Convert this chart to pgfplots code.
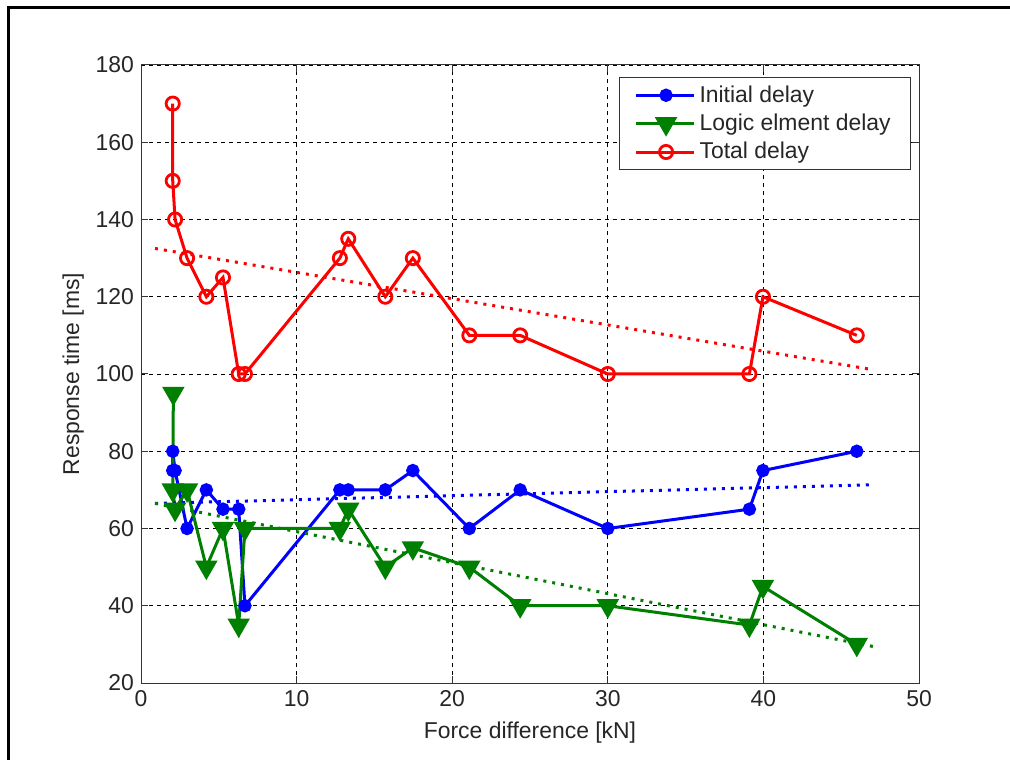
\documentclass[border=0pt]{standalone}
\usepackage{pgfplots}
\pgfplotsset{compat=1.18}
\usepackage{pgfplotstable}
\usepackage{fontspec}
\setmainfont{Liberation Sans}
\definecolor{mblue}{RGB}{0,0,255}
\definecolor{mgreen}{RGB}{0,128,0}
\definecolor{mred}{RGB}{255,0,0}
\pgfplotstableread{
x y
2.04 75
2.04 80
2.19 75
2.96 60
4.20 70
5.27 65
6.28 65
6.68 40
12.78 70
13.32 70
15.70 70
17.47 75
21.10 60
24.37 70
30.00 60
39.10 65
39.97 75
46.00 80
}\initial
\pgfplotstableread{
x y
2.08 95
2.04 70
2.19 65
2.96 70
4.20 50
5.27 60
6.28 35
6.68 60
12.78 60
13.32 65
15.70 50
17.47 55
21.10 50
24.37 40
30.00 40
39.10 35
39.97 45
46.00 30
}\logic
\pgfplotstableread{
x y
2.04 170
2.04 150
2.19 140
2.96 130
4.20 120
5.27 125
6.28 100
6.68 100
12.78 130
13.32 135
15.70 120
17.47 130
21.10 110
24.37 110
30.00 100
39.10 100
39.97 120
46.00 110
}\total
\begin{document}
\begin{tikzpicture}
\useasboundingbox (0,0) rectangle (505bp,380bp);
\fill[white] (0,0) rectangle (505bp,380bp);
\draw[line width=1.5bp] (4bp,0) -- (4bp,376bp) -- (505bp,376bp);
\begin{axis}[
  at={(70.5bp,38.5bp)}, anchor=south west,
  width=389bp, height=309bp, scale only axis,
  xmin=0, xmax=50, ymin=20, ymax=180,
  xtick={0,10,...,50}, ytick={20,40,...,180},
  grid=major,
  major grid style={black, dash pattern=on 2bp off 2bp, line width=0.4bp},
  tick align=inside, tick pos=both, major tick length=3.5bp,
  tick style={black!80, line width=0.5bp},
  axis line style={black!80, line width=0.5bp},
  /pgf/number format/assume math mode=true,
  tick label style={font=\fontsize{11.5}{13.5}\selectfont, text=black!85},
  label style={font=\fontsize{11.5}{13.5}\selectfont, text=black!85},
  xlabel={Force difference [kN]},
  ylabel={Response time [ms]},
  xlabel style={at={(axis description cs:0.5,-0.081)}, anchor=center},
  ylabel style={at={(axis description cs:-0.087,0.5)}, anchor=center},
  legend style={at={(axis description cs:1,1)}, anchor=north east,
    xshift=-4.2bp, yshift=-6.2bp, draw=black!80, line width=0.5bp,
    font=\fontsize{11.5}{13.5}\selectfont, text=black!85,
    row sep=0.4bp, inner xsep=7.75bp, inner ysep=1.8bp},
  legend cell align=left,
  legend image code/.code={%
    \path (-4.5bp,0) -- (24.5bp,0);
    \draw[mark repeat=2,mark phase=2,#1] plot coordinates {(0bp,0bp)(10.5bp,0bp)(21bp,0bp)};},
]
\addplot[mblue, line width=1.5bp, mark=*, mark size=2.6bp, mark options={solid}] table[x=x,y=y] {\initial};
\addlegendentry{Initial delay}
\addplot[mgreen, line width=1.5bp, mark=triangle*, mark size=5bp, mark options={solid, rotate=180}] table[x=x,y=y] {\logic};
\addlegendentry{Logic elment delay}
\addplot[mred, line width=1.5bp, mark=o, mark size=3.3bp, mark options={solid, line width=1.4bp}] table[x=x,y=y] {\total};
\addlegendentry{Total delay}
\addplot[forget plot, mred, line width=1.5bp, dash pattern=on 1.5bp off 3bp] coordinates {(0.9,132.5) (46.9,101.2)};
\addplot[forget plot, mblue, line width=1.5bp, dash pattern=on 1.5bp off 3bp] coordinates {(0.9,66.5) (46.9,71.3)};
\addplot[forget plot, mgreen, line width=1.5bp, dash pattern=on 1.5bp off 3bp] coordinates {(0.9,66.5) (47.1,29.4)};
\end{axis}
\end{tikzpicture}
\end{document}
